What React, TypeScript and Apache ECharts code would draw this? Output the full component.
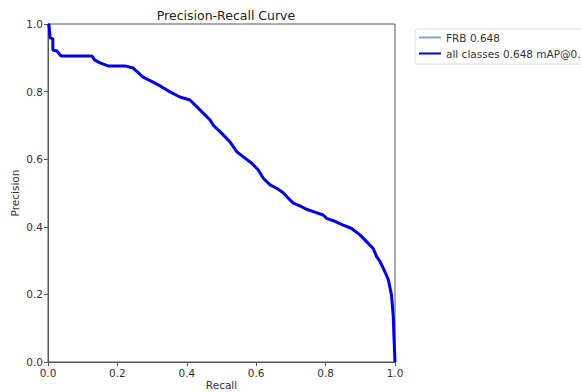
import React, { useEffect, useRef } from "react";
import * as echarts from "echarts";

const recall = [0, 0.003, 0.006, 0.014, 0.014, 0.026, 0.035, 0.04, 0.127, 0.135, 0.15, 0.173, 0.222, 0.245, 0.274, 0.303, 0.323, 0.352, 0.38, 0.409, 0.438, 0.467, 0.476, 0.5, 0.524, 0.544, 0.563, 0.587, 0.606, 0.621, 0.64, 0.659, 0.678, 0.693, 0.707, 0.726, 0.745, 0.765, 0.793, 0.803, 0.822, 0.851, 0.875, 0.899, 0.918, 0.937, 0.947, 0.957, 0.971, 0.981, 0.99, 0.995, 0.997, 1.0];
const precision = [1.0, 0.997, 0.959, 0.956, 0.923, 0.92, 0.908, 0.905, 0.905, 0.893, 0.885, 0.876, 0.876, 0.87, 0.843, 0.828, 0.817, 0.799, 0.784, 0.775, 0.746, 0.716, 0.701, 0.677, 0.652, 0.622, 0.607, 0.588, 0.568, 0.543, 0.524, 0.514, 0.501, 0.484, 0.47, 0.462, 0.452, 0.445, 0.435, 0.425, 0.418, 0.405, 0.395, 0.376, 0.356, 0.336, 0.312, 0.297, 0.267, 0.243, 0.198, 0.134, 0.075, 0.0];
const seriesNames = ["FRB 0.648", "all classes 0.648 mAP@0.5"];
const ticks = [0, 0.2, 0.4, 0.6, 0.8, 1.0];

const FONT = "DejaVu Sans";
const TEXT = "#333";
const THIN = "#7ea6cf";
const THICK = "#0000e6";

export default function App() {
  const ref = useRef<HTMLDivElement>(null);
  useEffect(() => {
    if (!ref.current) return;
    const chart = echarts.init(ref.current, undefined, { renderer: "svg" });
    const pts = recall.map((r, i) => [r, precision[i]]);
    const axisCommon = {
      type: "value",
      min: ticks[0],
      max: ticks[ticks.length - 1],
      interval: 0.2,
      splitLine: { show: false },
      axisLine: { show: true, lineStyle: { color: "#555", width: 1 } },
      axisTick: { show: true, inside: false, length: 4, lineStyle: { color: "#555" } },
      axisLabel: { color: TEXT, fontFamily: FONT, fontSize: 10.5, margin: 5, formatter: (v: number) => v.toFixed(1) },
      nameLocation: "middle",
      nameMoveOverlap: false,
      nameTextStyle: { color: TEXT, fontFamily: FONT, fontSize: 10.5 },
    };
    chart.setOption({
      animation: false,
      backgroundColor: "#fff",
      title: {
        text: "Precision-Recall Curve",
        left: 221,
        top: 4,
        textAlign: "center",
        textStyle: { color: "#222", fontFamily: FONT, fontSize: 12.5, fontWeight: "normal" },
      },
      grid: {
        left: 48, right: 186, top: 24, bottom: 30,
        outerBoundsMode: "none", containLabel: false,
        show: true, borderColor: "#555", borderWidth: 1,
      },
      legend: {
        orient: "vertical",
        left: 415,
        top: 29,
        itemWidth: 22,
        itemHeight: 10,
        itemGap: 5,
        padding: [3, 6, 5, 3],
        borderColor: "#ddd",
        borderWidth: 1,
        borderRadius: 3,
        itemStyle: { opacity: 0 },
        textStyle: { color: TEXT, fontFamily: FONT, fontSize: 10.5 },
        data: [
          { name: seriesNames[0] },
          { name: seriesNames[1] },
        ],
      },
      xAxis: { ...axisCommon, name: "Recall", nameGap: 17 },
      yAxis: { ...axisCommon, name: "Precision", nameGap: 28 },
      series: [
        {
          name: seriesNames[0],
          type: "line",
          data: pts,
          symbol: "none",
          lineStyle: { color: THIN, width: 1 },
          itemStyle: { color: THIN, opacity: 0 },
        },
        {
          name: seriesNames[1],
          type: "line",
          data: pts,
          symbol: "none",
          lineStyle: { color: THICK, width: 3 },
          itemStyle: { color: THICK, opacity: 0 },
        },
      ],
    });
    return () => chart.dispose();
  }, []);
  return (
    <div
      ref={ref}
      style={{ position: "fixed", left: 0, top: 0, width: 581, height: 392, background: "#fff" }}
    />
  );
}
